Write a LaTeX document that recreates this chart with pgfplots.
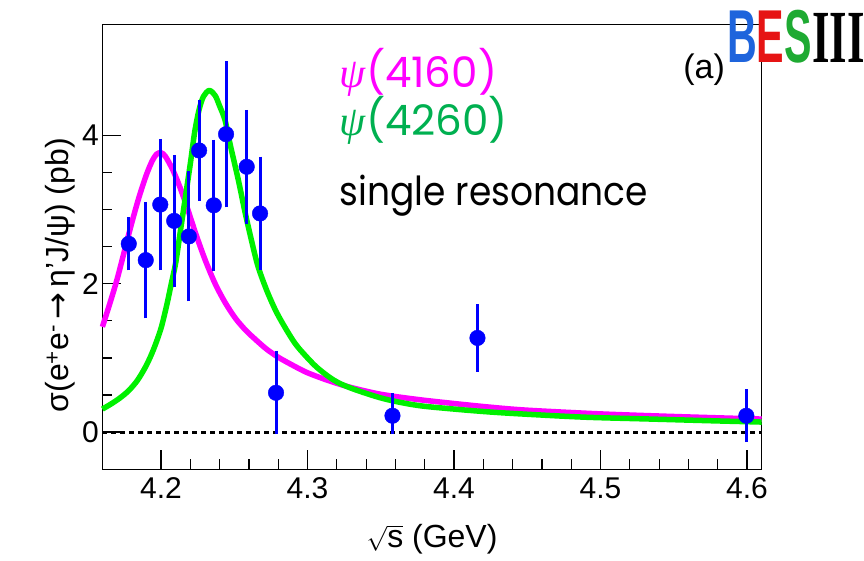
\documentclass[border=0pt]{standalone}
\usepackage{pgfplots}
\pgfplotsset{compat=1.18}
\usepackage{fontspec}
\setmainfont{Liberation Sans}
\newfontfamily\poppins{Poppins}
\newfontfamily\serifbold{Liberation Serif}
\newfontfamily\greekit{Liberation Serif}
\newfontfamily\dejavu{DejaVu Sans}
\definecolor{mag}{RGB}{255,0,255}
\definecolor{grn}{RGB}{0,240,0}
\definecolor{txtgrn}{RGB}{0,176,80}
\definecolor{ptblue}{RGB}{0,0,255}
\definecolor{logoblue}{RGB}{30,100,220}
\definecolor{logored}{RGB}{230,20,20}
\definecolor{logogreen}{RGB}{30,170,50}
\begin{document}
\begin{tikzpicture}
\useasboundingbox (-102.4bp,-91bp) rectangle (761.6bp,469.1bp);
\begin{axis}[
  at={(0,0)}, anchor=south west,
  scale only axis, width=659.3bp, height=444.6bp,
  xmin=4.16, xmax=4.61, ymin=-0.5, ymax=5.5,
  xtick={4.2,4.3,4.4,4.5,4.6}, minor x tick num=4,
  ytick={0,2,4}, minor y tick num=3,
  xtick pos=bottom, ytick pos=left,
  tick align=inside,
  major tick length=19bp, minor tick length=10bp,
  every tick/.style={black, line width=1.2bp},
  axis line style={line width=1.2bp},
  /pgf/number format/.cd, fixed, precision=1, assume math mode=true, /pgfplots/.cd,
  tick label style={font=\fontsize{30bp}{36bp}\selectfont},
  xticklabel style={yshift=-5bp},
  label style={font=\fontsize{32bp}{38bp}\selectfont},
  xlabel={$\sqrt{\mbox{s}}$ (GeV)},
  xlabel style={yshift=-19bp},
  ylabel={σ(e\textsuperscript{+}e\textsuperscript{-}{\dejavu\,→\,}η'J/ψ) (pb)},
  ylabel style={at={(ticklabel cs:0.436)}},
  clip=false,
]
\addplot[black, line width=3bp, dash pattern=on 5bp off 4bp] coordinates {(4.16,0) (4.61,0)};
\addplot[mag, line width=5.5bp, smooth, line join=round] coordinates {
(4.160,1.42) (4.165,1.73) (4.170,2.06) (4.175,2.44) (4.180,2.82) (4.185,3.17)
(4.190,3.47) (4.194,3.66) (4.197,3.75) (4.200,3.77) (4.203,3.72) (4.208,3.54)
(4.213,3.30) (4.218,3.02) (4.224,2.66) (4.230,2.33) (4.237,2.00) (4.244,1.74)
(4.251,1.53) (4.258,1.37) (4.265,1.24) (4.272,1.12) (4.280,1.01) (4.290,0.90)
(4.300,0.80) (4.315,0.69) (4.330,0.60) (4.350,0.51) (4.375,0.44) (4.400,0.385)
(4.425,0.335) (4.450,0.295) (4.500,0.245) (4.550,0.21) (4.610,0.175)
};
\addplot[grn, line width=5.5bp, smooth, line join=round] coordinates {
(4.160,0.31) (4.166,0.38) (4.172,0.46) (4.178,0.56) (4.184,0.70) (4.190,0.90)
(4.195,1.12) (4.200,1.40) (4.204,1.72) (4.207,2.00) (4.210,2.28) (4.213,2.68)
(4.2165,3.15) (4.220,3.62) (4.223,4.05) (4.226,4.35) (4.229,4.53) (4.233,4.61)
(4.237,4.54) (4.240,4.40) (4.2437,4.21) (4.247,3.90) (4.2528,3.40) (4.257,3.00)
(4.261,2.65) (4.266,2.25) (4.272,1.92) (4.278,1.65) (4.2835,1.45) (4.290,1.24)
(4.295,1.11) (4.306,0.88) (4.318,0.70) (4.330,0.59) (4.352,0.45) (4.375,0.36)
(4.400,0.31) (4.425,0.27) (4.450,0.24) (4.490,0.20) (4.535,0.175) (4.580,0.15)
(4.610,0.135)
};
\addplot[only marks, mark=*, mark size=7.8bp, ptblue, mark options={fill=ptblue, draw=ptblue},
  error bars/.cd, y dir=both, y explicit, error bar style={line width=3bp, ptblue},
  error mark=-, error mark options={line width=3bp, mark size=2bp, ptblue}]
coordinates {
(4.178,2.54) +- (0,0.33)
(4.1896,2.32) +- (0,0.76)
(4.1995,3.07) +- (0,0.86)
(4.209,2.85) +- (0,0.86)
(4.219,2.64) +- (0,0.85)
(4.226,3.80) +- (0,0.65)
(4.236,3.06) +- (0,0.86)
(4.2444,4.02) +- (0,0.96)
(4.2585,3.58) +- (0,0.74)
(4.2676,2.95) +- (0,0.74)
(4.2785,0.53) += (0,0.54) -= (0,0.53)
(4.358,0.22) += (0,0.28) -= (0,0.22)
(4.416,1.27) +- (0,0.43)
(4.5995,0.22) +- (0,0.33)
};
\node[anchor=base west, inner sep=0, text=mag, font=\poppins\fontsize{42bp}{48bp}\selectfont] at (axis cs:4.322,4.656) {{\greekit\itshape ψ}(4160)};
\node[anchor=base west, inner sep=0, text=txtgrn, font=\poppins\fontsize{42bp}{48bp}\selectfont] at (axis cs:4.322,4.008) {{\greekit\itshape ψ}(4260)};
\node[anchor=base west, inner sep=0, text=black, font=\poppins\fontsize{40bp}{48bp}\selectfont] at (axis cs:4.322,3.063) {\scalebox{0.9}[1]{single resonance}};
\node[anchor=base east, inner sep=0, font=\fontsize{34bp}{40bp}\selectfont] at (axis cs:4.585,4.777) {(a)};
\end{axis}
\node[anchor=north west, inner sep=0] at (624.6bp,459.1bp) {\scalebox{0.55}[1]{\fontsize{75bp}{80bp}\selectfont\bfseries\textcolor{logoblue}{B}\textcolor{logored}{E}\textcolor{logogreen}{S}}\scalebox{0.6}[1]{\serifbold\fontsize{75bp}{80bp}\selectfont\bfseries III}};
\end{tikzpicture}
\end{document}
